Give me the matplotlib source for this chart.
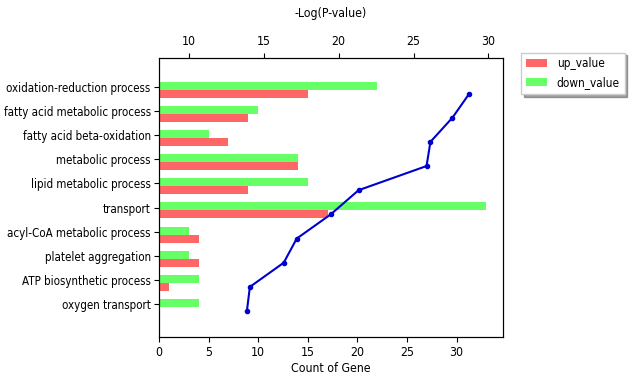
import numpy as np
import matplotlib
matplotlib.use('Agg')
import matplotlib.pyplot as plt

# datos
terminos = ["oxidation-reduction process", "fatty acid metabolic process",
            "fatty acid beta-oxidation", "metabolic process",
            "lipid metabolic process", "transport",
            "acyl-CoA metabolic process", "platelet aggregation",
            "ATP biosynthetic process", "oxygen transport"]
up_value = [15, 9, 7, 14, 9, 17, 4, 4, 1, 0]
down_value = [22, 10, 5, 14, 15, 33, 3, 3, 4, 4]
log_p = [28.73, 27.6, 26.13, 25.87, 21.33, 19.47, 17.2, 16.33, 14.07, 13.87]

plt.rcParams['font.size'] = 8.8
plt.rcParams['font.stretch'] = 'condensed'

fig = plt.figure(figsize=(6.3, 3.78), dpi=100)
ax = fig.add_axes([0.2524, 0.1093, 0.5456, 0.7373])

y = np.arange(len(terminos))
h = 0.33
ax.barh(y - 0.05, down_value, height=h, color='#66FF66', label='down_value')
ax.barh(y + 0.28, up_value, height=h, color='#FF6666', label='up_value')
ax.set_yticks(y)
ax.set_yticklabels(terminos, fontsize=8.3)
ax.tick_params(axis='y', pad=2.5)
ax.set_xlabel("Count of Gene", labelpad=2)
ax.set_xlim(0, 34.65)
ax.set_ylim(10.34, -1.19)

ax2 = ax.twiny()
ax2.plot(log_p, y + 0.28, color='#0000CD', marker='o', markersize=3, linewidth=1.5)
ax2.set_xlim(8.0, 30.96)
ax2.set_xlabel("-Log(P-value)", labelpad=13)

handles, labels = ax.get_legend_handles_labels()
fig.legend(handles[::-1], labels[::-1], loc='upper left',
           bbox_to_anchor=(0.822, 0.87), shadow=True, fancybox=False,
           handlelength=1.8, fontsize=8.5, borderaxespad=0.3)

plt.savefig("out.png", dpi=100)
